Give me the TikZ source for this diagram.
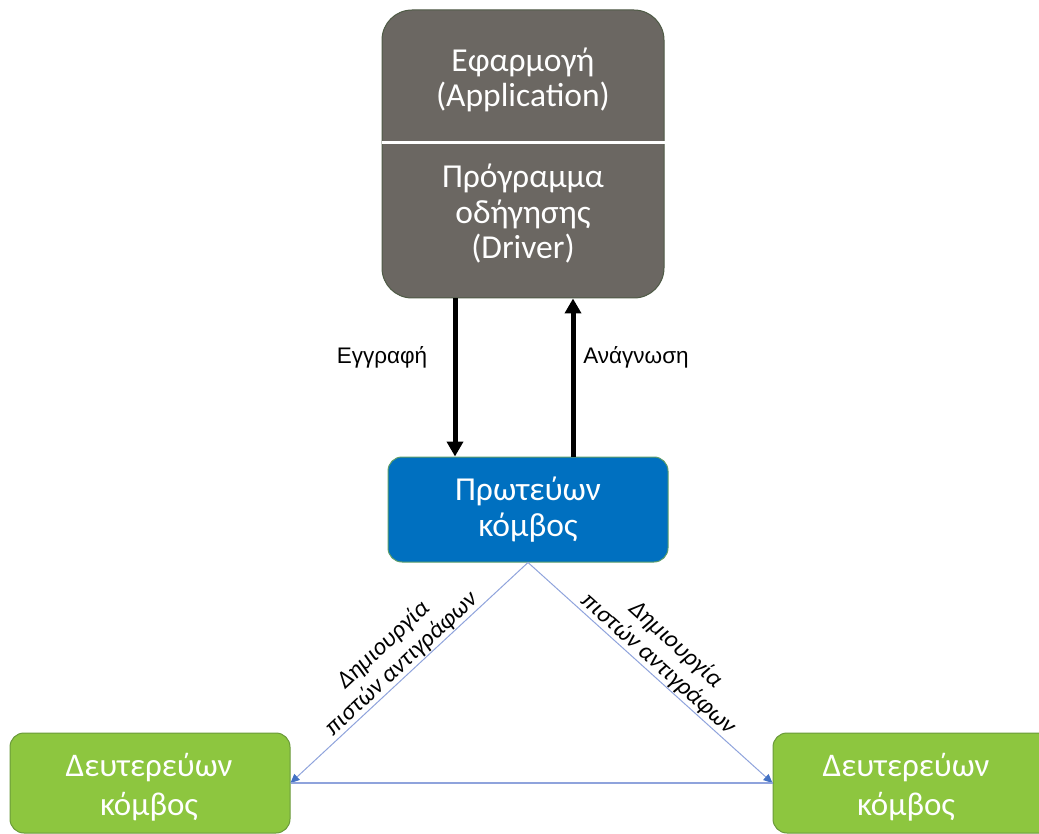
\documentclass[tikz,border=0pt]{standalone}
\usepackage{fontspec}
\setmainfont{Carlito}
\newfontfamily\arialfont{Liberation Sans}
\usetikzlibrary{arrows.meta,calc}
\definecolor{appgray}{HTML}{6B6762}
\definecolor{appedge}{HTML}{4E5A45}
\definecolor{primblue}{HTML}{0070C0}
\definecolor{primedge}{HTML}{5E9E6A}
\definecolor{secgreen}{HTML}{8DC63F}
\definecolor{secedge}{HTML}{6A9A3A}
\definecolor{replline}{HTML}{8FA3DC}
\definecolor{repltip}{HTML}{4472C4}
\tikzset{
  boxtext/.style={text=white, align=center, font=\fontsize{33.5}{35.5}\selectfont},
  sectext/.style={boxtext, font=\fontsize{33}{39}\selectfont},
  appbox/.style={draw=appedge, line width=1pt, fill=appgray, rounded corners=30pt,
    minimum width=282pt, minimum height=288pt, inner sep=0pt},
  primbox/.style={boxtext, draw=primedge, line width=1pt, fill=primblue, rounded corners=14pt,
    minimum width=280pt, minimum height=105pt, inner sep=0pt},
  secbox/.style={draw=secedge, line width=1pt, fill=secgreen, rounded corners=14pt,
    minimum width=280pt, minimum height=100pt, inner sep=0pt},
  bigarrow/.style={line width=5pt, -{Triangle[length=15pt,width=16pt]}},
  repl/.style={draw=replline, line width=1pt, -{Triangle[length=9pt,width=8pt,color=repltip]}},
  flowlabel/.style={font=\arialfont\fontsize{22.5}{26}\selectfont},
  repllabel/.style={font=\itshape\fontsize{24.5}{26}\selectfont, align=center, inner sep=1pt}
}
\begin{document}
\begin{tikzpicture}[x=1pt,y=-1pt]
  \useasboundingbox (0,0) rectangle (1039,834);

  % application / driver stack
  \node[appbox] (app) at (523,154) {};
  \draw[white, line width=3pt] (app.west |- 0,143) -- (app.east |- 0,143);
  \node[boxtext] (apptext) at (523,80) {Εφαρμογή\\(Application)};
  \node[boxtext] (drvtext) at (523,214) {Πρόγραμμα\\οδήγησης\\(Driver)};

  % primary node
  \node[primbox] (prim) at (528,509.5) {Πρωτεύων\\κόμβος};

  % secondary nodes (the right one runs past the page edge)
  \node[secbox] (secl) at (150,783) {};
  \node[sectext] (secltext) at (149,787) {Δευτερεύων\\κόμβος};
  \node[secbox] (secr) at (913,783) {};
  \node[sectext] (secrtext) at (906,787) {Δευτερεύων\\κόμβος};

  % write / read arrows
  \draw[bigarrow] (app.south -| 455,0) -- (prim.north -| 455,0);
  \draw[bigarrow] (prim.north -| 573,0) -- (app.south -| 573,0);
  \node[flowlabel] (wlabel) at (382,357) {Εγγραφή};
  \node[flowlabel] (rlabel) at (636,357) {Ανάγνωση};

  % replication links
  \draw[repl] (prim.south) -- (secl.east);
  \draw[repl] (prim.south) -- (secr.west);
  \draw[draw=replline, line width=1.5pt] (secl.east) -- (secr.west);

  \node[repllabel, rotate=43, anchor=south] (lrep) at ($(prim.south)!0.5!(secl.east)$)
    {Δημιουργία\\πιστών αντιγράφων};
  \node[repllabel, rotate=-42, anchor=south] (rrep) at ($(prim.south)!0.5!(secr.west)$)
    {Δημιουργία\\πιστών αντιγράφων};
\end{tikzpicture}
\end{document}
